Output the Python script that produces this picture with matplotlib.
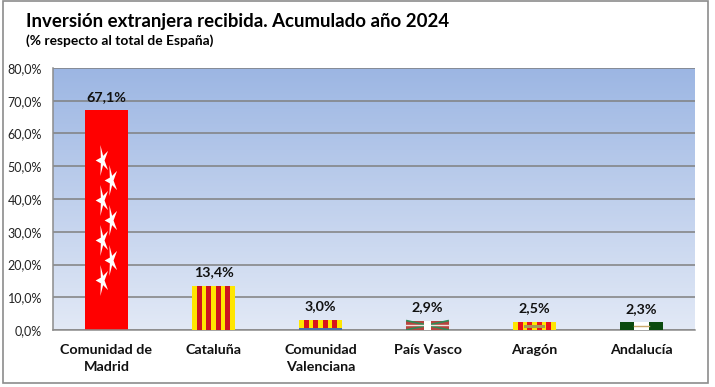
#!/usr/bin/env python3
"""
foreign investment by region, bars painted like the region flags
"""
import matplotlib
matplotlib.use('Agg')
import matplotlib.pyplot as plt
import numpy as np
from matplotlib.colors import LinearSegmentedColormap
from matplotlib.patches import Rectangle
from matplotlib.path import Path

plt.rcParams['font.family'] = ['Lato', 'DejaVu Sans']

categories = ['Comunidad de\nMadrid', 'Cataluña', 'Comunidad\nValenciana', 'País Vasco', 'Aragón', 'Andalucía']
values = [67.1, 13.4, 3.0, 2.9, 2.5, 2.3]
value_labels = ['67,1%', '13,4%', '3,0%', '2,9%', '2,5%', '2,3%']
y_ticks = [0, 10, 20, 30, 40, 50, 60, 70, 80]
y_tick_labels = ['0,0%', '10,0%', '20,0%', '30,0%', '40,0%', '50,0%', '60,0%', '70,0%', '80,0%']

W, H = 715, 387
BAR_W = 0.4


def stripes(ax, i, n, c1, c2):
    # n alternating vertical stripes over the whole bar, starting with c1
    left = i - BAR_W / 2
    step = BAR_W / n
    top = values[i]
    for k in range(n):
        ax.add_patch(Rectangle((left + k * step, 0), step, top, color=c1 if k % 2 == 0 else c2, lw=0, zorder=3))


def star_marker():
    # five point star pointing left and squeezed in x, like the ones on the Madrid flag
    ang = np.pi + np.arange(10) * np.pi / 5
    rad = np.where(np.arange(10) % 2 == 0, 1.0, 0.3)
    pts = np.c_[0.42 * rad * np.cos(ang), rad * np.sin(ang)]
    return Path(np.vstack([pts, pts[0]]), closed=True)


fig = plt.figure(figsize=(W / 100, H / 100), dpi=100)
fig.patch.set_facecolor('white')
fig.add_artist(Rectangle((2.5 / W, 1 - 383 / H), 705 / W, 382 / H, transform=fig.transFigure,
                         fill=False, ec='#8c8c8c', lw=1.2))

ax = fig.add_axes([53 / W, 1 - 330 / H, 642 / W, 262 / H])
cmap = LinearSegmentedColormap.from_list('bg', ['#9cb6e3', '#e2e9f6'])
ax.imshow(np.linspace(0, 1, 256).reshape(-1, 1), cmap=cmap, aspect='auto',
          extent=(-0.5, 5.5, 0, 80), origin='upper', zorder=0)

ax.set_xlim(-0.5, 5.5)
ax.set_ylim(0, 80)
ax.set_yticks(y_ticks)
ax.set_yticklabels(y_tick_labels, fontsize=9, color='#222222')
ax.set_xticks(range(len(categories)))
ax.set_xticklabels(categories, fontsize=10.3, fontweight='bold', color='#111111', linespacing=1.55)
ax.tick_params(axis='both', length=0)
ax.tick_params(axis='x', pad=10)
ax.tick_params(axis='y', pad=8)
ax.grid(axis='y', color='#808080', lw=1.1, zorder=1)
ax.set_axisbelow(True)
for name, sp in ax.spines.items():
    sp.set_visible(name == 'bottom' or name == 'left')
    sp.set_color('#8c8c8c')
    sp.set_linewidth(1.1)

bars = ax.bar(range(len(values)), values, BAR_W, color='#ff0000', lw=0, zorder=2)

# madrid
star_x = [-0.04, 0.045, -0.04, 0.045, -0.04, 0.045, -0.04]
star_y = [52.0, 45.9, 39.6, 33.5, 27.4, 21.3, 15.2]
ax.scatter(star_x, star_y, marker=star_marker(), s=500, c='white', lw=0, zorder=4)

# cataluña
stripes(ax, 1, 9, '#ffe600', '#cc1420')

# valencia, with a thin blue edge at the bottom
stripes(ax, 2, 9, '#ffe600', '#d8121c')
ax.add_patch(Rectangle((2 - BAR_W / 2, 0), BAR_W, 0.5, color='#4a6fa8', lw=0, zorder=4))

# pais vasco
ax.add_patch(Rectangle((3 - BAR_W / 2, 0), BAR_W, values[3], color='#b5453f', lw=0, zorder=3))
ax.plot([3 - BAR_W / 2, 3 + BAR_W / 2], [0, values[3]], color='#2e8b57', lw=1.2, zorder=4, solid_capstyle='butt')
ax.plot([3 - BAR_W / 2, 3 + BAR_W / 2], [values[3], 0], color='#2e8b57', lw=1.2, zorder=4, solid_capstyle='butt')
ax.add_patch(Rectangle((3 - 0.03, 0), 0.06, values[3], color='white', lw=0, zorder=5))
ax.plot([3 - BAR_W / 2, 3 + BAR_W / 2], [values[3] / 2] * 2, color='#f2e2dc', lw=1, zorder=4)

# aragon
stripes(ax, 4, 9, '#ffe600', '#e8121c')
ax.add_patch(Rectangle((4 - 0.1, 0.5), 0.2, 1.0, color='#a89a50', lw=0, zorder=4))

# andalucia
ax.add_patch(Rectangle((5 - BAR_W / 2, 0), BAR_W, values[5], color='#0b4a0f', lw=0, zorder=3))
ax.add_patch(Rectangle((5 - BAR_W / 6, 0), BAR_W / 3, values[5], color='white', lw=0, zorder=4))
ax.plot([5 - BAR_W / 6, 5 + BAR_W / 6], [values[5] / 2] * 2, color='#c9a86a', lw=1, zorder=5)

for b, lab in zip(bars, value_labels):
    ax.annotate(lab, (b.get_x() + b.get_width() / 2, b.get_height()), xytext=(0, 5.5),
                textcoords='offset points', ha='center', va='bottom',
                fontsize=10.3, fontweight='bold', color='#111111', zorder=6)

fig.text(26 / W, 1 - 21 / H, 'Inversión extranjera recibida. Acumulado año 2024', fontsize=13.4,
         fontweight='bold', color='#000000', va='center', ha='left')
fig.text(26 / W, 1 - 41 / H, '(% respecto al total de España)', fontsize=9.9,
         fontweight='bold', color='#000000', va='center', ha='left')

fig.savefig('out.png', dpi=100)
